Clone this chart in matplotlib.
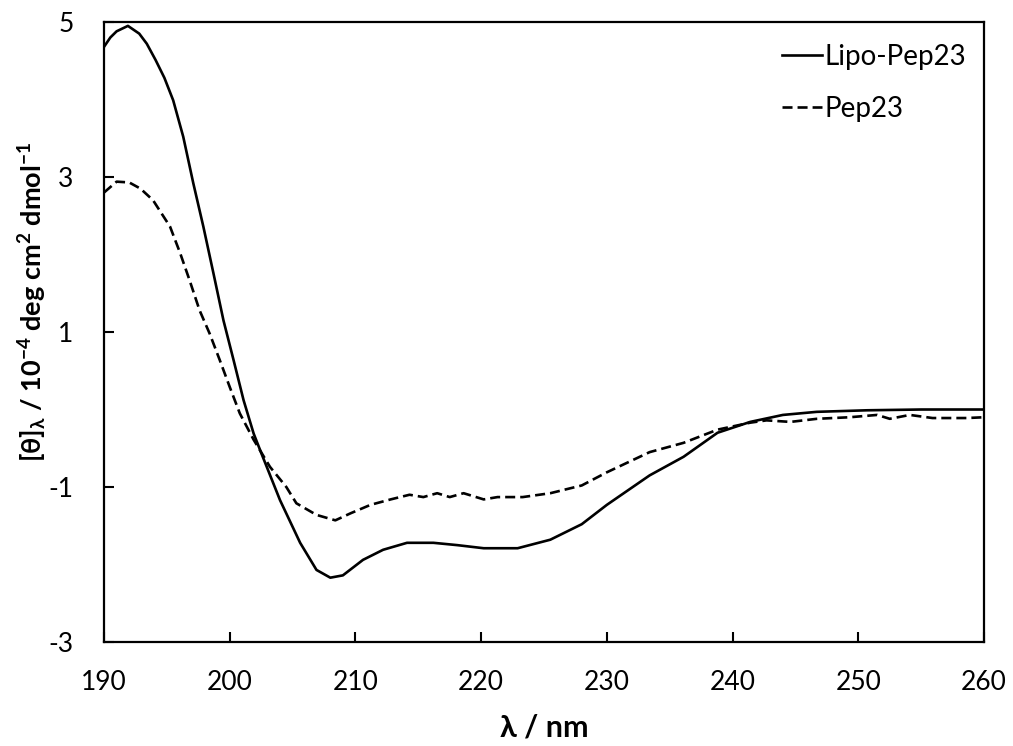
import matplotlib
matplotlib.use('Agg')
import matplotlib.pyplot as plt

# CD spectra (wavelength in nm, [theta] in 10^4 deg cm2 dmol-1)
lipo_wl = [190.0, 190.5, 191.0, 191.9, 192.8, 193.4, 194.1, 194.8, 195.5, 196.3,
           197.1, 197.9, 198.7, 199.5, 200.3, 201.1, 201.9, 202.6, 204.0, 205.6,
           206.9, 208.0, 209.0, 210.6, 212.2, 214.1, 216.2, 218.1, 220.2, 222.9,
           225.5, 228.0, 230.0, 233.4, 236.1, 238.8, 241.4, 244.0, 246.7, 250.7,
           255.0, 260.0]
lipo_val = [4.68, 4.80, 4.88, 4.95, 4.85, 4.72, 4.51, 4.28, 3.99, 3.52,
            2.92, 2.36, 1.76, 1.15, 0.64, 0.12, -0.31, -0.60, -1.17, -1.72,
            -2.07, -2.17, -2.14, -1.94, -1.81, -1.72, -1.72, -1.75, -1.79, -1.79,
            -1.68, -1.48, -1.23, -0.85, -0.61, -0.30, -0.16, -0.07, -0.03, -0.01,
            0.0, 0.0]

pep_wl = [190.0, 191.0, 192.0, 192.9, 193.9, 195.25, 196.05, 196.8, 197.6, 198.4,
          199.2, 200.0, 200.8, 201.9, 203.2, 204.5, 205.3, 206.9, 208.4, 209.6,
          211.2, 212.8, 214.3, 215.4, 216.5, 217.5, 218.6, 220.2, 221.3, 223.3,
          225.5, 228.0, 230.0, 233.4, 236.1, 238.8, 241.4, 242.7, 244.6, 246.7,
          249.3, 251.5, 252.5, 254.1, 255.9, 258.6, 260.0]
pep_val = [2.80, 2.94, 2.93, 2.85, 2.70, 2.36, 2.02, 1.67, 1.28, 0.98,
           0.64, 0.29, -0.05, -0.39, -0.74, -1.00, -1.21, -1.36, -1.43, -1.34,
           -1.23, -1.16, -1.10, -1.13, -1.08, -1.13, -1.08, -1.16, -1.13, -1.13,
           -1.08, -0.98, -0.81, -0.55, -0.43, -0.26, -0.17, -0.14, -0.16, -0.12,
           -0.10, -0.07, -0.12, -0.07, -0.11, -0.11, -0.10]

labels = ['Lipo-Pep23', 'Pep23']
x_ticks = [190, 200, 210, 220, 230, 240, 250, 260]
y_ticks = [-3, -1, 1, 3, 5]

plt.rcParams['font.family'] = ['Lato', 'DejaVu Sans']
plt.rcParams['mathtext.fontset'] = 'custom'
plt.rcParams['mathtext.rm'] = 'Lato'
plt.rcParams['mathtext.bf'] = 'Lato:bold'
plt.rcParams['mathtext.default'] = 'bf'
plt.rcParams['axes.unicode_minus'] = False

fig = plt.figure(figsize=(10.13, 7.46), dpi=100)
ax = fig.add_axes([0.1027, 0.1394, 0.8687, 0.8311])

ax.plot(lipo_wl, lipo_val, color='black', lw=1.9, label=labels[0])
ax.plot(pep_wl, pep_val, color='black', lw=1.9, linestyle=(0, (3.8, 1.9)), label=labels[1])

ax.set_xlim(190, 260)
ax.set_ylim(-3, 5)
ax.set_xticks(x_ticks)
ax.set_yticks(y_ticks)
ax.tick_params(direction='in', length=7, width=1.5, labelsize=19, pad=20)
ax.tick_params(axis='y', pad=22)
for s in ax.spines.values():
    s.set_linewidth(1.6)

ax.set_xlabel('λ / nm', fontsize=22, fontweight='bold')
ax.xaxis.set_label_coords(0.5, -0.115)
ax.set_ylabel('[θ]$_{λ}$ / 10$^{-4}$ deg cm$^{2}$ dmol$^{-1}$',
              fontsize=19.5, fontweight='bold')
ax.yaxis.set_label_coords(-0.062, 0.548)

ax.legend(loc='upper left', bbox_to_anchor=(0.770, 0.9645), frameon=False,
          fontsize=20, handlelength=1.44, handletextpad=0.12, labelspacing=0.92,
          borderpad=0, borderaxespad=0)

fig.savefig('out.png', dpi=100)
